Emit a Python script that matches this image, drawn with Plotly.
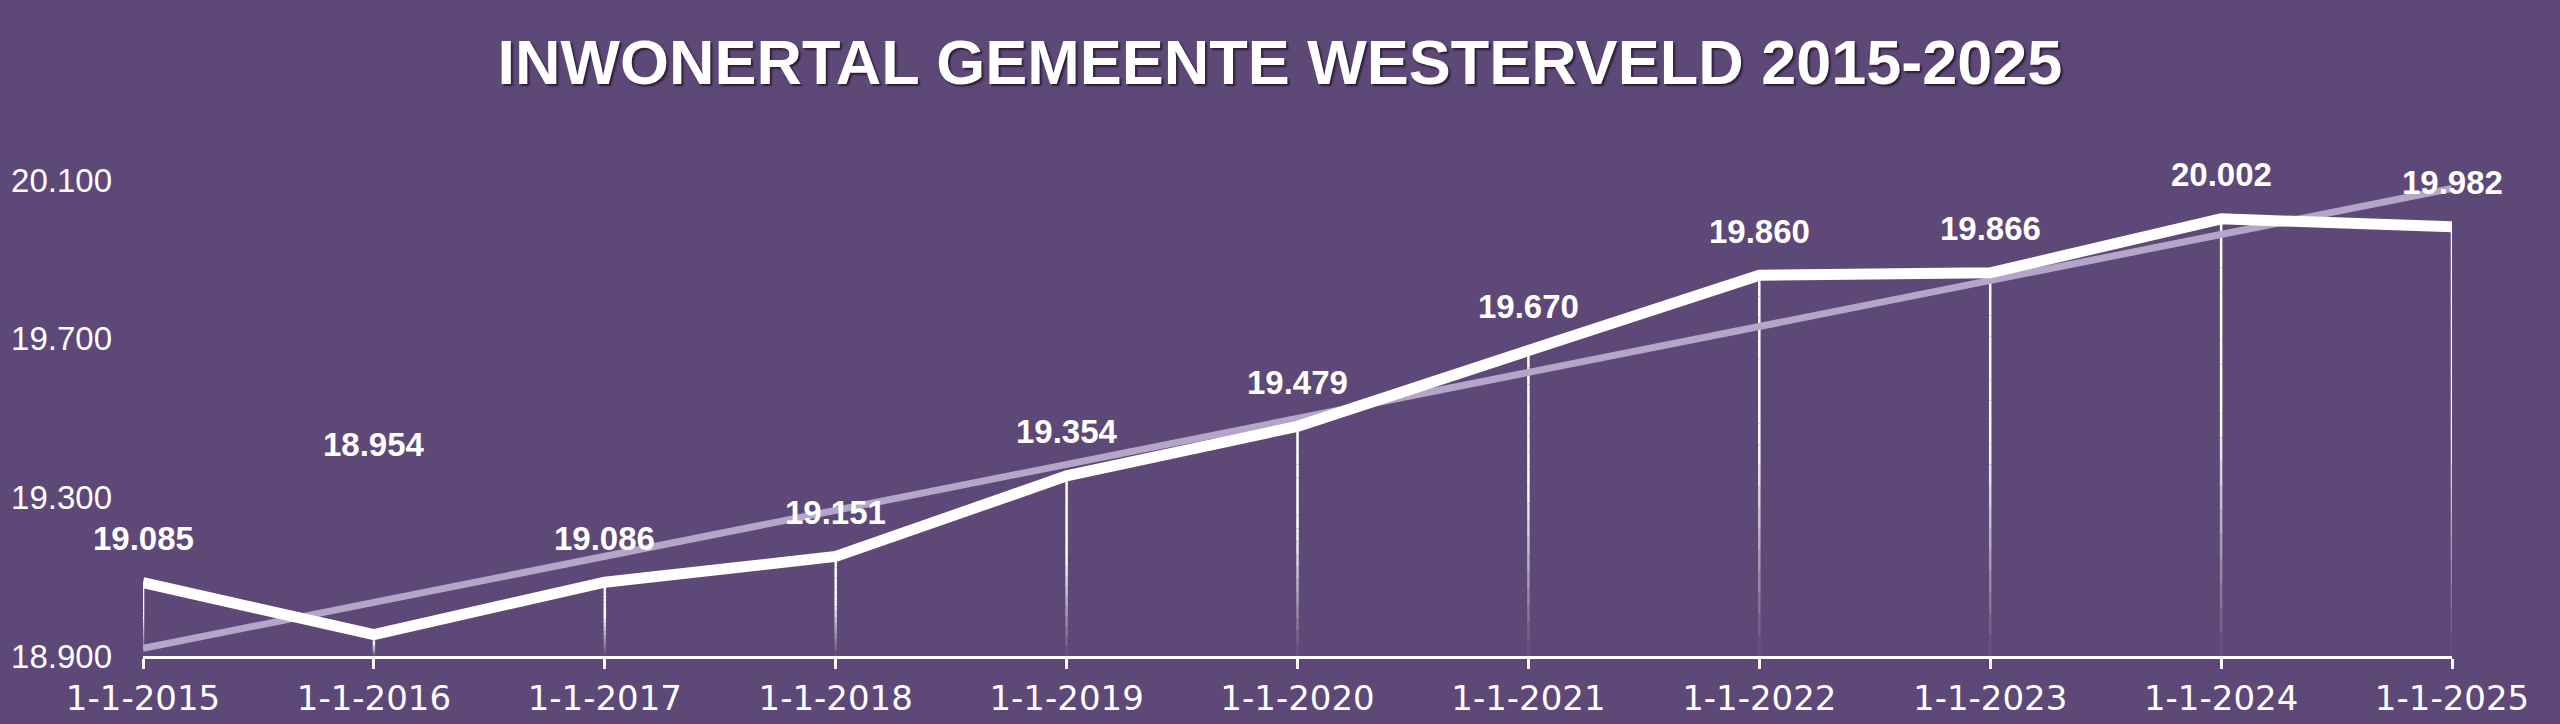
import numpy as np
import plotly.graph_objects as go

# ---- data ----
categories = ["1-1-2015", "1-1-2016", "1-1-2017", "1-1-2018", "1-1-2019", "1-1-2020",
              "1-1-2021", "1-1-2022", "1-1-2023", "1-1-2024", "1-1-2025"]
inwoners = [19085, 18954, 19086, 19151, 19354, 19479, 19670, 19860, 19866, 20002, 19982]
y_ticks = [18900, 19300, 19700, 20100]
title_text = "INWONERTAL GEMEENTE WESTERVELD 2015-2025"

# ---- style ----
BG = "#5e4878"
TREND = "#b3a6c8"
WHITE = "#ffffff"
FONT = "Liberation Sans, Arial, sans-serif"
XFONT = "DejaVu Sans, sans-serif"
label_shift = [44, 190, 44, 44, 44, 44, 44, 44, 44, 44, 44]

base = y_ticks[0]
idx = np.arange(len(inwoners))
slope, intercept = np.polyfit(idx, inwoners, 1)
trend = slope * idx + intercept

fig = go.Figure()

# drop lines with fade towards the axis
N = 18
for k in range(N):
    xs, ys = [], []
    for c, v in zip(categories, inwoners):
        y0 = base + (k / N) * (v - base)
        y1 = base + ((k + 1) / N) * (v - base)
        xs += [c, c, None]
        ys += [y0, y1, None]
    frac = (k + 0.5) / N
    op = float(min(1.0, frac / 0.55))
    fig.add_trace(go.Scatter(x=xs, y=ys, mode="lines",
                             line=dict(color=WHITE, width=2.5),
                             opacity=op, hoverinfo="skip", showlegend=False,
                             cliponaxis=False))

# trend line
fig.add_trace(go.Scatter(x=categories, y=trend, mode="lines",
                         line=dict(color=TREND, width=7),
                         hoverinfo="skip", showlegend=False, cliponaxis=False))

# main line
fig.add_trace(go.Scatter(x=categories, y=inwoners, mode="lines",
                         line=dict(color=WHITE, width=11),
                         showlegend=False, cliponaxis=False))

# data labels
for c, v, s in zip(categories, inwoners, label_shift):
    fig.add_annotation(x=c, y=v, text=f"{v:,}".replace(",", "."),
                       showarrow=False, yshift=s, xanchor="center", yanchor="middle",
                       font=dict(family=FONT, size=33, color=WHITE, weight="bold"))

fig.update_layout(
    width=2560, height=724,
    paper_bgcolor=BG, plot_bgcolor=BG,
    margin=dict(l=143, r=108, t=180, b=68, autoexpand=False),
    separators=",.",
    title=dict(text=title_text, x=0.5, xanchor="center",
               y=1 - 62 / 724, yanchor="middle", yref="container",
               font=dict(family=FONT, size=63, color=WHITE, weight="bold",
                         shadow="2px 2px 2px rgba(30,20,40,0.8)")),
    xaxis=dict(type="category", range=[0, len(categories) - 1],
               automargin=False,
               showgrid=False, zeroline=False,
               showline=True, linecolor=WHITE, linewidth=3,
               ticks="outside", ticklen=10, tickwidth=3, tickcolor=WHITE,
               tickfont=dict(family=XFONT, size=34, color=WHITE),
               ticklabelstandoff=0),
    yaxis=dict(range=[y_ticks[0], y_ticks[-1]], tickvals=y_ticks, tickformat=",d",
               automargin=False,
               showgrid=False, zeroline=False, showline=False, ticks="",
               tickfont=dict(family=FONT, size=33, color=WHITE),
               ticklabelstandoff=30),
)

fig.write_html("out.html",
               config={"displayModeBar": False},
               post_script="document.body.style.margin='0';"
                           "document.body.style.overflow='hidden';"
                           "document.body.style.background='" + BG + "';")
